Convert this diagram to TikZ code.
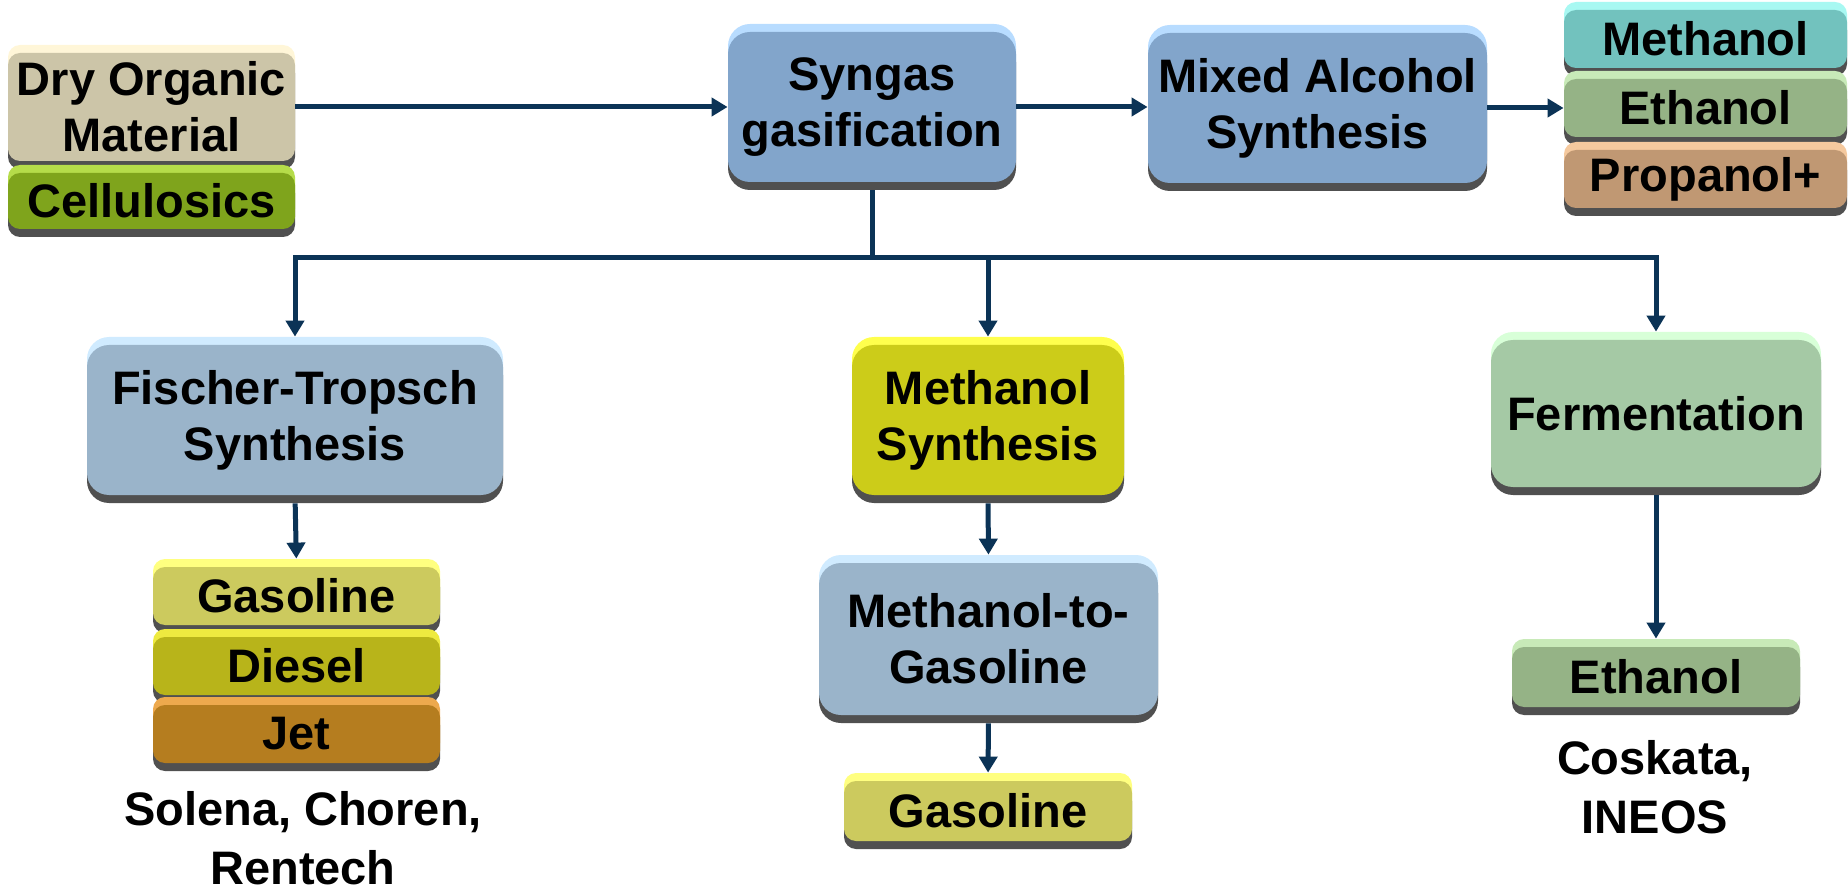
\documentclass[tikz,border=0pt]{standalone}
\usepackage{fontspec}
\setmainfont{Liberation Sans}
\usetikzlibrary{arrows.meta,shadows}
\definecolor{linec}{HTML}{0B3356}
\definecolor{shadowc}{HTML}{505050}
\definecolor{dryc}{HTML}{CCC5A8}\definecolor{dryh}{HTML}{FFF6D8}
\definecolor{cellc}{HTML}{7FA41C}\definecolor{cellh}{HTML}{B5DC4A}
\definecolor{sync}{HTML}{82A5CB}\definecolor{synh}{HTML}{B8DCFF}
\definecolor{ftc}{HTML}{9AB4CA}\definecolor{fth}{HTML}{D0EBFF}
\definecolor{methc}{HTML}{72C2BE}\definecolor{methh}{HTML}{A8F8F2}
\definecolor{ethc}{HTML}{95B386}\definecolor{ethh}{HTML}{C8EAB8}
\definecolor{propc}{HTML}{C09873}\definecolor{proph}{HTML}{F5C99E}
\definecolor{msc}{HTML}{CCCC19}\definecolor{msh}{HTML}{FFFF4D}
\definecolor{gasc}{HTML}{CCCA5E}\definecolor{gash}{HTML}{FFFF80}
\definecolor{diec}{HTML}{B8B41A}\definecolor{dieh}{HTML}{EEEA40}
\definecolor{jetc}{HTML}{B57D1F}\definecolor{jeth}{HTML}{EDA94D}
\definecolor{ferc}{HTML}{A5C9A5}\definecolor{ferh}{HTML}{D8FFD8}
\tikzset{
  procbox/.style n args={4}{draw=none, fill=#1, rounded corners=#4,
    general shadow={fill=shadowc, opacity=1, shadow yshift=-4pt},
    general shadow={fill=#2, opacity=1, shadow yshift=4pt},
    minimum width=#3, inner sep=0pt, align=center,
    font=\bfseries\fontsize{23.5}{28}\selectfont},
  lbl/.style={align=center, font=\bfseries\fontsize{23.5}{29.5}\selectfont},
  conn/.style={draw=linec, line width=2.5pt},
  arr/.style={conn, -{Triangle[width=9pt,length=8pt]}},
}
\begin{document}
\begin{tikzpicture}[x=0.5pt,y=-0.5pt]
\useasboundingbox (0,0) rectangle (1848,893);
% top row
\node[procbox={dryc}{dryh}{143.5pt}{6pt}, minimum height=54pt] (dry) at (151.5,107) {Dry Organic\\Material};
\node[procbox={cellc}{cellh}{143.5pt}{6pt}, minimum height=28pt] (cell) at (151.5,201) {Cellulosics};
\node[procbox={sync}{synh}{144pt}{11pt}, minimum height=75pt] (syn) at (872,107) {Syngas\\gasification};
\node[procbox={sync}{synh}{169.5pt}{11pt}, minimum height=75pt] (mix) at (1317.5,108) {Mixed Alcohol\\Synthesis};
\node[procbox={methc}{methh}{141.5pt}{6pt}, minimum height=29pt] (methr) at (1705.5,39) {Methanol};
\node[procbox={ethc}{ethh}{141.5pt}{6pt}, minimum height=29pt] (ethr) at (1705.5,108) {Ethanol};
\node[procbox={propc}{proph}{141.5pt}{6pt}, minimum height=29pt] (prop) at (1705.5,179) {Propanol+};
% lower row
\node[procbox={ftc}{fth}{208pt}{11pt}, minimum height=75pt] (ft) at (295,420) {Fischer-Tropsch\\Synthesis};
\node[procbox={gasc}{gash}{143.5pt}{6pt}, minimum height=29pt] (gas1) at (296.5,596) {Gasoline};
\node[procbox={diec}{dieh}{143.5pt}{6pt}, minimum height=29pt] (dies) at (296.5,666) {Diesel};
\node[procbox={jetc}{jeth}{143.5pt}{6pt}, minimum height=29pt] (jet) at (296.5,734) {Jet};
\node[lbl] (solena) at (303,838) {Solena, Choren,\\Rentech};
\node[procbox={msc}{msh}{136pt}{11pt}, minimum height=75pt] (ms) at (988,420) {Methanol\\Synthesis};
\node[procbox={ftc}{fth}{169.5pt}{11pt}, minimum height=76pt] (mtg) at (988.5,639) {Methanol-to-\\Gasoline};
\node[procbox={gasc}{gash}{144pt}{6pt}, minimum height=30pt] (gas2) at (988,811) {Gasoline};
\node[procbox={ferc}{ferh}{165pt}{11pt}, minimum height=73.5pt] (ferm) at (1656,413.5) {Fermentation};
\node[procbox={ethc}{ethh}{144pt}{6pt}, minimum height=30pt] (eth2) at (1656,677) {Ethanol};
\node[lbl] (coskata) at (1655,787) {Coskata,\\INEOS};
% connectors
\coordinate (br) at (872,258);
\draw[arr] (dry.east) -- (dry.east -| syn.west);
\draw[arr] (syn.east) -- (syn.east -| mix.west);
\draw[arr] (mix.east) -- (mix.east -| ethr.west);
\draw[conn, shorten <=4pt] (syn.south) -- (br);
\draw[arr, shorten >=4pt] (br) -| (ft.north);
\draw[arr, shorten >=4pt] (br) -| (ms.north);
\draw[arr, shorten >=4pt] (br) -| (ferm.north);
\draw[arr, shorten <=4pt, shorten >=4pt] (ft.south) -- (gas1.north);
\draw[arr, shorten <=4pt, shorten >=4pt] (ms.south) -- (mtg.north);
\draw[arr, shorten <=4pt, shorten >=4pt] (mtg.south) -- (gas2.north);
\draw[arr, shorten <=4pt, shorten >=4pt] (ferm.south) -- (eth2.north);
\end{tikzpicture}
\end{document}
